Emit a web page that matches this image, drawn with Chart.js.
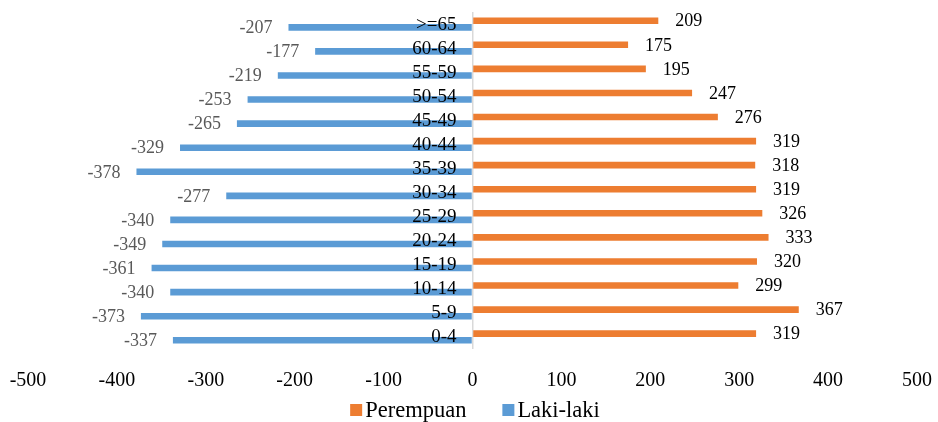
<!DOCTYPE html>
<html>
<head>
<meta charset="utf-8">
<script src="https://cdn.jsdelivr.net/npm/chart.js@4/dist/chart.umd.min.js"></script>
<style>
  html, body { margin: 0; padding: 0; background: #ffffff; }
  #wrap { width: 938px; height: 422px; }
</style>
</head>
<body>
<div id="wrap"><canvas id="c" width="938" height="422"></canvas></div>
<script>
// Age groups, oldest at the top
const ageGroups = ['>=65', '60-64', '55-59', '50-54', '45-49', '40-44', '35-39',
                   '30-34', '25-29', '20-24', '15-19', '10-14', '5-9', '0-4'];
// Women, drawn to the right of zero
const perempuan = [209, 175, 195, 247, 276, 319, 318, 319, 326, 333, 320, 299, 367, 319];
// Men, stored as negative values so they extend to the left
const lakiLaki = [-207, -177, -219, -253, -265, -329, -378, -277, -340, -349, -361, -340, -373, -337];
// Horizontal axis ticks
const xTicks = [-500, -400, -300, -200, -100, 0, 100, 200, 300, 400, 500];

const SERIF = '"Liberation Serif", "Times New Roman", serif';
const ORANGE = '#ED7D31';
const BLUE = '#5B9BD5';

// Age labels beside the zero line, value labels at bar ends, and the legend
const overlay = {
  id: 'overlay',
  afterDatasetsDraw(chart) {
    const ctx = chart.ctx;
    const xs = chart.scales.x;
    const ys = chart.scales.y;
    const zero = xs.getPixelForValue(0);
    ctx.save();
    ctx.textBaseline = 'middle';

    // value labels
    chart.data.datasets.forEach((ds, di) => {
      const meta = chart.getDatasetMeta(di);
      ctx.font = '18px ' + SERIF;
      ctx.fillStyle = ds.labelColor;
      meta.data.forEach((bar, i) => {
        const v = ds.data[i];
        if (v >= 0) {
          ctx.textAlign = 'left';
          ctx.fillText(String(v), bar.x + 17, bar.y + 1);
        } else {
          ctx.textAlign = 'right';
          ctx.fillText(String(v), bar.x - 16, bar.y + 1);
        }
      });
    });

    // age group labels, drawn over the bars
    ctx.font = '19px ' + SERIF;
    ctx.fillStyle = '#000000';
    ctx.textAlign = 'right';
    ageGroups.forEach((g, i) => {
      ctx.fillText(g, zero - 16, ys.getPixelForValue(i) + 0.5);
    });

    // legend
    ctx.font = '22.5px ' + SERIF;
    ctx.textAlign = 'left';
    const items = chart.data.datasets.map(ds => ({ text: ds.label, color: ds.backgroundColor }));
    const box = 12, gap = 3, spacing = 36;
    let total = 0;
    items.forEach((it, k) => {
      it.w = ctx.measureText(it.text).width;
      total += box + gap + it.w + (k < items.length - 1 ? spacing : 0);
    });
    let x = chart.width / 2 - total / 2 + 6;
    const ly = 410;
    items.forEach(it => {
      ctx.fillStyle = it.color;
      ctx.fillRect(x, ly - box / 2, box, box);
      ctx.fillStyle = '#000000';
      ctx.fillText(it.text, x + box + gap, ly + 1);
      x += box + gap + it.w + spacing;
    });
    ctx.restore();
  }
};

new Chart(document.getElementById('c'), {
  type: 'bar',
  data: {
    labels: ageGroups,
    datasets: [
      { label: 'Perempuan', data: perempuan, backgroundColor: ORANGE, labelColor: '#000000' },
      { label: 'Laki-laki', data: lakiLaki, backgroundColor: BLUE, labelColor: '#595959' }
    ]
  },
  options: {
    indexAxis: 'y',
    responsive: false,
    animation: false,
    events: [],
    layout: { padding: { left: 28, right: 21, top: 12, bottom: 9 } },
    datasets: {
      bar: { categoryPercentage: 0.55, barPercentage: 1.0, borderWidth: 0 }
    },
    plugins: {
      legend: { display: false },
      tooltip: { enabled: false },
      title: { display: false }
    },
    scales: {
      x: {
        type: 'linear',
        min: -500,
        max: 500,
        afterBuildTicks(scale) {
          scale.ticks = xTicks.map(v => ({ value: v }));
        },
        afterFit(scale) {
          // let the layout padding alone decide the plot's side margins
          scale.paddingLeft = 0;
          scale.paddingRight = 0;
        },
        border: { display: false },
        grid: {
          drawTicks: false,
          lineWidth: ctx => (ctx.tick && ctx.tick.value === 0 ? 1.5 : 0),
          color: ctx => (ctx.tick && ctx.tick.value === 0 ? '#D9D9D9' : 'rgba(0,0,0,0)')
        },
        ticks: {
          padding: 20,
          color: '#000000',
          font: { family: SERIF, size: 20 },
          maxRotation: 0,
          autoSkip: false
        }
      },
      y: {
        type: 'category',
        display: false,
        grid: { display: false }
      }
    }
  },
  plugins: [overlay]
});
</script>
</body>
</html>
